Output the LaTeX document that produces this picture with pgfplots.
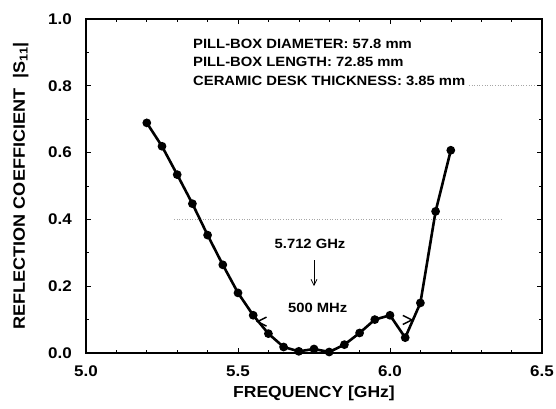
\documentclass[border=0pt]{standalone}
\usepackage{fontspec}
\setmainfont{Liberation Sans}[FakeStretch=1.1]
\usepackage{pgfplots}
\pgfplotsset{compat=1.18}
\usetikzlibrary{arrows.meta}

\pgfdeclareplotmark{lchev}{%
  \pgfpathmoveto{\pgfqpoint{\pgfplotmarksize}{\pgfplotmarksize}}%
  \pgfpathlineto{\pgfqpoint{-\pgfplotmarksize}{0pt}}%
  \pgfpathlineto{\pgfqpoint{\pgfplotmarksize}{-\pgfplotmarksize}}%
  \pgfusepathqstroke}
\pgfdeclareplotmark{rchev}{%
  \pgfpathmoveto{\pgfqpoint{-\pgfplotmarksize}{\pgfplotmarksize}}%
  \pgfpathlineto{\pgfqpoint{\pgfplotmarksize}{0pt}}%
  \pgfpathlineto{\pgfqpoint{-\pgfplotmarksize}{-\pgfplotmarksize}}%
  \pgfusepathqstroke}

\newcommand{\annfont}{\fontsize{13.5}{16}\selectfont\bfseries}

\begin{document}
\begin{tikzpicture}
\begin{axis}[
    scale only axis,
    width=456bp, height=334bp,
    xmin=5.0, xmax=6.5,
    ymin=0, ymax=1.0,
    xtick={5.0,5.5,6.0,6.5},
    ytick={0,0.2,0.4,0.6,0.8,1.0},
    minor x tick num=4,
    minor y tick num=1,
    tick align=inside,
    major tick length=5bp,
    minor tick length=3bp,
    axis line style={line width=1.3bp},
    every tick/.style={black, line width=0.6bp},
    /pgf/number format/assume math mode=true,
    /pgf/number format/.cd, fixed, fixed zerofill, precision=1, /pgfplots/.cd,
    ticklabel style={font=\fontsize{15.5}{18}\selectfont\bfseries, inner sep=0pt},
    xticklabel style={anchor=north, yshift=-13bp},
    yticklabel style={anchor=east, xshift=-14bp},
    xlabel={FREQUENCY [GHz]},
    ylabel={REFLECTION COEFFICIENT\ \ |S\textsubscript{11}|},
    xlabel style={font=\fontsize{16}{18}\selectfont\bfseries, at={(rel axis cs:0.5,0)}, anchor=base, yshift=-44bp, inner sep=0pt},
    ylabel style={font=\fontsize{16.5}{18}\selectfont\bfseries, at={(rel axis cs:0,0.5)}, anchor=base, yshift=61bp, inner sep=0pt},
    clip=false,
]
% page frame matching the reference margins
\path ([xshift=-86bp,yshift=-56bp]rel axis cs:0,0) rectangle ([xshift=14bp,yshift=19bp]rel axis cs:1,1);

% faint dotted remnants of grid
\addplot[gray!70, dotted, line width=0.6bp] coordinates {(5.29,0.4) (6.37,0.4)};
\addplot[gray!70, dotted, line width=0.6bp] coordinates {(6.26,0.8) (6.48,0.8)};

\addplot[black, line width=2.6bp, mark=*, mark size=3bp] coordinates {
  (5.20,0.689) (5.25,0.619) (5.30,0.534) (5.35,0.447) (5.40,0.353)
  (5.45,0.264) (5.50,0.180) (5.55,0.113) (5.60,0.058) (5.65,0.018)
  (5.70,0.005) (5.75,0.012) (5.80,0.003) (5.85,0.025) (5.90,0.060)
  (5.95,0.100) (6.00,0.113) (6.05,0.046) (6.10,0.150) (6.15,0.424)
  (6.20,0.607)
};
\addplot[only marks, black, mark=lchev, mark size=4.5bp, line width=1.5bp] coordinates {(5.579,0.094)};
\addplot[only marks, black, mark=rchev, mark size=4.5bp, line width=1.5bp] coordinates {(6.057,0.099)};

\node[font=\annfont, anchor=base west, inner sep=0pt] at (axis cs:5.352,0.912) {PILL-BOX DIAMETER: 57.8 mm};
\node[font=\annfont, anchor=base west, inner sep=0pt] at (axis cs:5.352,0.857) {PILL-BOX LENGTH: 72.85 mm};
\node[font=\annfont, anchor=base west, inner sep=0pt] at (axis cs:5.352,0.802) {CERAMIC DESK THICKNESS: 3.85 mm};
\node[font=\annfont] at (axis cs:5.737,0.326) {5.712 GHz};
\draw[-{Straight Barb[length=6bp,width=6bp]}, line width=0.8bp] (axis cs:5.75,0.278) -- (axis cs:5.75,0.200);
\node[font=\annfont] at (axis cs:5.762,0.136) {500 MHz};
\end{axis}
\end{tikzpicture}
\end{document}
